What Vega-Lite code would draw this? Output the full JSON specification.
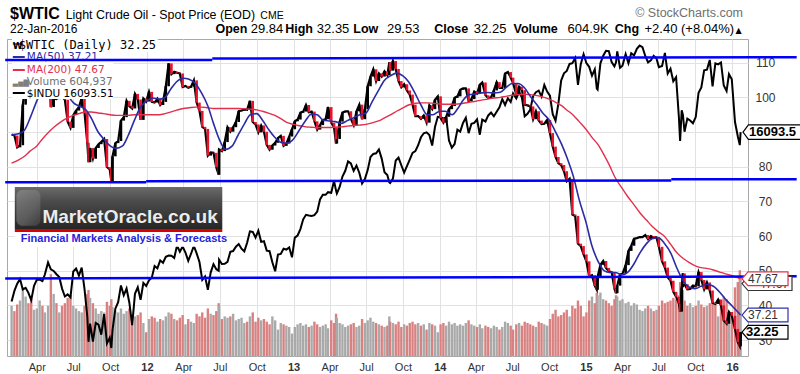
{
"$schema":"https://vega.github.io/schema/vega-lite/v6.json",
"width":741,"height":317,
"autosize":{"type":"none"},
"padding":{"left":7,"top":39,"right":52,"bottom":18},
"background":"white",
"config":{"font":"Liberation Sans","view":{"stroke":"#a8a8a8"}},
"datasets":{
"wk":[
{"d":"2011-01-28","c":89.3,"i":11824,"v":380},{"d":"2011-02-04","c":89.0,"i":12092,"v":340},{"d":"2011-02-11","c":85.6,"i":12273,"v":390},{"d":"2011-02-18","c":86.2,"i":12391,"v":420},{"d":"2011-02-25","c":97.9,"i":12130,"v":520},{"d":"2011-03-04","c":104.4,"i":12170,"v":450},{"d":"2011-03-11","c":101.2,"i":12044,"v":400},{"d":"2011-03-18","c":101.1,"i":11858,"v":430},{"d":"2011-03-25","c":105.4,"i":12221,"v":350},{"d":"2011-04-01","c":107.9,"i":12376,"v":360},{"d":"2011-04-08","c":112.8,"i":12380,"v":420},{"d":"2011-04-15","c":109.7,"i":12342,"v":380},{"d":"2011-04-21","c":112.3,"i":12506,"v":330},{"d":"2011-04-29","c":113.9,"i":12811,"v":380},{"d":"2011-05-06","c":97.2,"i":12638,"v":620},{"d":"2011-05-13","c":99.6,"i":12596,"v":470},{"d":"2011-05-20","c":99.5,"i":12512,"v":400},{"d":"2011-05-27","c":100.6,"i":12442,"v":330},{"d":"2011-06-03","c":100.2,"i":12151,"v":380},{"d":"2011-06-10","c":99.3,"i":11952,"v":400},{"d":"2011-06-17","c":93.0,"i":12004,"v":440},{"d":"2011-06-24","c":91.2,"i":11934,"v":460},{"d":"2011-07-01","c":94.9,"i":12582,"v":380},{"d":"2011-07-08","c":96.2,"i":12657,"v":360},{"d":"2011-07-15","c":97.2,"i":12480,"v":340},{"d":"2011-07-22","c":99.9,"i":12681,"v":330},{"d":"2011-07-29","c":95.7,"i":12143,"v":380},{"d":"2011-08-05","c":86.9,"i":11445,"v":470},{"d":"2011-08-08","c":81.3,"i":10810,"v":500},{"d":"2011-08-12","c":85.4,"i":11269,"v":440},{"d":"2011-08-19","c":82.3,"i":10818,"v":400},{"d":"2011-08-26","c":85.4,"i":11285,"v":360},{"d":"2011-09-02","c":86.5,"i":11240,"v":320},{"d":"2011-09-09","c":87.2,"i":10992,"v":340},{"d":"2011-09-16","c":88.0,"i":11509,"v":330},{"d":"2011-09-23","c":79.9,"i":10771,"v":410},{"d":"2011-09-30","c":79.2,"i":10913,"v":380},{"d":"2011-10-04","c":75.7,"i":10655,"v":430},{"d":"2011-10-07","c":83.0,"i":11103,"v":370},{"d":"2011-10-14","c":86.8,"i":11644,"v":340},{"d":"2011-10-21","c":87.4,"i":11809,"v":330},{"d":"2011-10-28","c":93.3,"i":12231,"v":360},{"d":"2011-11-04","c":94.3,"i":11983,"v":320},{"d":"2011-11-11","c":99.0,"i":12153,"v":340},{"d":"2011-11-18","c":97.4,"i":11796,"v":360},{"d":"2011-11-25","c":96.8,"i":11231,"v":240},{"d":"2011-12-02","c":101.0,"i":12019,"v":300},{"d":"2011-12-09","c":99.4,"i":12184,"v":310},{"d":"2011-12-16","c":93.5,"i":11866,"v":330},{"d":"2011-12-23","c":99.7,"i":12294,"v":250},{"d":"2011-12-30","c":98.8,"i":12218,"v":180},
{"d":"2012-01-06","c":101.6,"i":12360,"v":280},{"d":"2012-01-13","c":98.7,"i":12422,"v":300},{"d":"2012-01-20","c":98.5,"i":12720,"v":290},{"d":"2012-01-27","c":99.6,"i":12660,"v":260},{"d":"2012-02-03","c":97.8,"i":12862,"v":280},{"d":"2012-02-10","c":98.7,"i":12801,"v":270},{"d":"2012-02-17","c":103.2,"i":12950,"v":300},{"d":"2012-02-24","c":109.8,"i":12983,"v":330},{"d":"2012-03-02","c":106.7,"i":12978,"v":320},{"d":"2012-03-09","c":107.4,"i":12922,"v":280},{"d":"2012-03-16","c":107.1,"i":13233,"v":270},{"d":"2012-03-23","c":106.9,"i":13081,"v":290},{"d":"2012-03-30","c":103.0,"i":13212,"v":310},{"d":"2012-04-06","c":103.3,"i":13060,"v":240},{"d":"2012-04-13","c":102.8,"i":12850,"v":280},{"d":"2012-04-20","c":103.1,"i":13029,"v":260},{"d":"2012-04-27","c":104.9,"i":13228,"v":250},{"d":"2012-05-04","c":98.5,"i":13038,"v":320},{"d":"2012-05-11","c":96.1,"i":12821,"v":300},{"d":"2012-05-18","c":91.5,"i":12369,"v":330},{"d":"2012-05-25","c":90.9,"i":12455,"v":290},{"d":"2012-06-01","c":83.2,"i":12119,"v":360},{"d":"2012-06-08","c":84.1,"i":12554,"v":320},{"d":"2012-06-15","c":84.0,"i":12767,"v":310},{"d":"2012-06-22","c":79.8,"i":12640,"v":340},{"d":"2012-06-28","c":77.7,"i":12602,"v":400},{"d":"2012-06-29","c":85.0,"i":12880,"v":380},{"d":"2012-07-06","c":84.5,"i":12772,"v":280},{"d":"2012-07-13","c":87.1,"i":12777,"v":300},{"d":"2012-07-20","c":91.4,"i":12822,"v":290},{"d":"2012-07-27","c":90.1,"i":13075,"v":300},{"d":"2012-08-03","c":91.4,"i":13096,"v":320},{"d":"2012-08-10","c":92.9,"i":13207,"v":270},{"d":"2012-08-17","c":96.0,"i":13275,"v":280},{"d":"2012-08-24","c":96.2,"i":13157,"v":290},{"d":"2012-08-31","c":96.5,"i":13090,"v":250},{"d":"2012-09-07","c":96.4,"i":13306,"v":260},{"d":"2012-09-14","c":99.0,"i":13593,"v":300},{"d":"2012-09-21","c":92.9,"i":13579,"v":330},{"d":"2012-09-28","c":92.2,"i":13437,"v":260},{"d":"2012-10-05","c":89.9,"i":13610,"v":290},{"d":"2012-10-12","c":91.9,"i":13328,"v":270},{"d":"2012-10-19","c":90.1,"i":13343,"v":280},{"d":"2012-10-26","c":86.3,"i":13107,"v":260},{"d":"2012-11-02","c":84.9,"i":13093,"v":240},{"d":"2012-11-09","c":86.1,"i":12815,"v":300},{"d":"2012-11-16","c":86.9,"i":12588,"v":270},{"d":"2012-11-23","c":88.3,"i":13010,"v":200},{"d":"2012-11-30","c":88.9,"i":13025,"v":250},{"d":"2012-12-07","c":86.0,"i":13155,"v":240},{"d":"2012-12-14","c":86.7,"i":13135,"v":230},{"d":"2012-12-21","c":88.7,"i":13190,"v":220},{"d":"2012-12-28","c":90.8,"i":12938,"v":170},
{"d":"2013-01-04","c":93.1,"i":13435,"v":220},{"d":"2013-01-11","c":93.6,"i":13488,"v":240},{"d":"2013-01-18","c":95.6,"i":13650,"v":250},{"d":"2013-01-25","c":95.9,"i":13896,"v":230},{"d":"2013-02-01","c":97.8,"i":14009,"v":240},{"d":"2013-02-08","c":95.7,"i":13993,"v":220},{"d":"2013-02-15","c":95.9,"i":13981,"v":230},{"d":"2013-02-22","c":93.1,"i":14000,"v":260},{"d":"2013-03-01","c":90.7,"i":14090,"v":240},{"d":"2013-03-08","c":92.0,"i":14397,"v":220},{"d":"2013-03-15","c":93.5,"i":14514,"v":230},{"d":"2013-03-22","c":93.7,"i":14512,"v":240},{"d":"2013-03-28","c":97.2,"i":14579,"v":210},{"d":"2013-04-05","c":92.7,"i":14565,"v":270},{"d":"2013-04-12","c":91.3,"i":14865,"v":250},{"d":"2013-04-17","c":86.7,"i":14619,"v":320},{"d":"2013-04-19","c":88.0,"i":14547,"v":290},{"d":"2013-04-26","c":93.0,"i":14712,"v":250},{"d":"2013-05-03","c":95.6,"i":14974,"v":240},{"d":"2013-05-10","c":96.0,"i":15118,"v":220},{"d":"2013-05-17","c":96.0,"i":15354,"v":230},{"d":"2013-05-24","c":93.8,"i":15303,"v":240},{"d":"2013-05-31","c":92.0,"i":15116,"v":250},{"d":"2013-06-07","c":96.0,"i":15248,"v":220},{"d":"2013-06-14","c":97.9,"i":15070,"v":230},{"d":"2013-06-21","c":93.7,"i":14799,"v":280},{"d":"2013-06-28","c":96.6,"i":14910,"v":250},{"d":"2013-07-05","c":103.2,"i":15136,"v":270},{"d":"2013-07-12","c":106.0,"i":15464,"v":290},{"d":"2013-07-19","c":108.1,"i":15543,"v":260},{"d":"2013-07-26","c":104.7,"i":15559,"v":250},{"d":"2013-08-02","c":106.9,"i":15658,"v":240},{"d":"2013-08-09","c":106.0,"i":15425,"v":230},{"d":"2013-08-16","c":107.5,"i":15081,"v":220},{"d":"2013-08-23","c":106.4,"i":15010,"v":230},{"d":"2013-08-28","c":110.1,"i":14824,"v":300},{"d":"2013-08-30","c":107.7,"i":14810,"v":260},{"d":"2013-09-06","c":110.5,"i":14922,"v":250},{"d":"2013-09-13","c":108.2,"i":15376,"v":240},{"d":"2013-09-20","c":104.7,"i":15452,"v":260},{"d":"2013-09-27","c":102.9,"i":15258,"v":220},{"d":"2013-10-04","c":103.8,"i":15073,"v":240},{"d":"2013-10-11","c":102.0,"i":15237,"v":230},{"d":"2013-10-18","c":100.8,"i":15400,"v":250},{"d":"2013-10-25","c":97.9,"i":15570,"v":260},{"d":"2013-11-01","c":94.6,"i":15615,"v":240},{"d":"2013-11-08","c":94.6,"i":15762,"v":250},{"d":"2013-11-15","c":93.8,"i":15962,"v":230},{"d":"2013-11-22","c":94.8,"i":16064,"v":240},{"d":"2013-11-29","c":92.7,"i":16086,"v":200},{"d":"2013-12-06","c":97.7,"i":16020,"v":250},{"d":"2013-12-13","c":96.6,"i":15755,"v":240},{"d":"2013-12-20","c":99.3,"i":16221,"v":230},{"d":"2013-12-27","c":100.3,"i":16479,"v":180},
{"d":"2014-01-03","c":94.0,"i":16470,"v":240},{"d":"2014-01-10","c":92.7,"i":16437,"v":250},{"d":"2014-01-17","c":94.4,"i":16459,"v":230},{"d":"2014-01-24","c":96.6,"i":15880,"v":260},{"d":"2014-01-31","c":97.5,"i":15699,"v":240},{"d":"2014-02-07","c":99.9,"i":15794,"v":250},{"d":"2014-02-14","c":100.3,"i":16154,"v":230},{"d":"2014-02-21","c":102.2,"i":16104,"v":240},{"d":"2014-02-28","c":102.6,"i":16322,"v":230},{"d":"2014-03-07","c":102.6,"i":16453,"v":250},{"d":"2014-03-14","c":98.9,"i":16066,"v":270},{"d":"2014-03-21","c":99.5,"i":16302,"v":240},{"d":"2014-03-28","c":101.7,"i":16323,"v":230},{"d":"2014-04-04","c":101.1,"i":16413,"v":220},{"d":"2014-04-11","c":103.7,"i":16027,"v":240},{"d":"2014-04-17","c":104.3,"i":16409,"v":210},{"d":"2014-04-25","c":100.6,"i":16361,"v":230},{"d":"2014-05-02","c":99.8,"i":16513,"v":220},{"d":"2014-05-09","c":100.0,"i":16584,"v":210},{"d":"2014-05-16","c":102.0,"i":16492,"v":230},{"d":"2014-05-23","c":104.4,"i":16607,"v":220},{"d":"2014-05-30","c":102.7,"i":16717,"v":200},{"d":"2014-06-06","c":102.7,"i":16925,"v":220},{"d":"2014-06-13","c":106.9,"i":16776,"v":260},{"d":"2014-06-20","c":107.3,"i":16947,"v":250},{"d":"2014-06-27","c":105.7,"i":16851,"v":230},{"d":"2014-07-03","c":104.1,"i":17068,"v":200},{"d":"2014-07-11","c":100.8,"i":16944,"v":240},{"d":"2014-07-18","c":103.1,"i":17100,"v":250},{"d":"2014-07-25","c":102.1,"i":16961,"v":230},{"d":"2014-08-01","c":97.9,"i":16493,"v":260},{"d":"2014-08-08","c":97.7,"i":16554,"v":250},{"d":"2014-08-15","c":97.4,"i":16663,"v":240},{"d":"2014-08-22","c":93.7,"i":17001,"v":230},{"d":"2014-08-29","c":96.0,"i":17098,"v":220},{"d":"2014-09-05","c":93.3,"i":17138,"v":260},{"d":"2014-09-12","c":92.3,"i":16988,"v":250},{"d":"2014-09-19","c":92.4,"i":17280,"v":240},{"d":"2014-09-26","c":93.5,"i":17113,"v":230},{"d":"2014-10-03","c":89.7,"i":17009,"v":280},{"d":"2014-10-10","c":85.8,"i":16544,"v":320},{"d":"2014-10-17","c":82.8,"i":16380,"v":350},{"d":"2014-10-24","c":81.0,"i":16805,"v":300},{"d":"2014-10-31","c":80.5,"i":17391,"v":310},{"d":"2014-11-07","c":78.7,"i":17573,"v":330},{"d":"2014-11-14","c":75.8,"i":17634,"v":350},{"d":"2014-11-21","c":76.5,"i":17810,"v":300},{"d":"2014-11-28","c":66.2,"i":17828,"v":380},{"d":"2014-12-05","c":65.8,"i":17959,"v":360},{"d":"2014-12-12","c":57.8,"i":17281,"v":420},{"d":"2014-12-19","c":57.1,"i":17804,"v":380},{"d":"2014-12-26","c":54.7,"i":18053,"v":300},
{"d":"2015-01-02","c":52.7,"i":17833,"v":330},{"d":"2015-01-09","c":48.4,"i":17737,"v":420},{"d":"2015-01-16","c":48.7,"i":17512,"v":450},{"d":"2015-01-23","c":45.6,"i":17672,"v":400},{"d":"2015-01-28","c":44.5,"i":17191,"v":480},{"d":"2015-01-30","c":48.2,"i":17165,"v":460},{"d":"2015-02-06","c":51.7,"i":17825,"v":480},{"d":"2015-02-13","c":52.8,"i":18019,"v":430},{"d":"2015-02-20","c":50.8,"i":18140,"v":420},{"d":"2015-02-27","c":49.8,"i":18133,"v":400},{"d":"2015-03-06","c":49.6,"i":17856,"v":380},{"d":"2015-03-13","c":44.8,"i":17749,"v":430},{"d":"2015-03-17","c":43.5,"i":17850,"v":460},{"d":"2015-03-20","c":45.7,"i":18128,"v":450},{"d":"2015-03-27","c":48.9,"i":17713,"v":420},{"d":"2015-04-02","c":49.1,"i":17763,"v":430},{"d":"2015-04-10","c":51.6,"i":18057,"v":400},{"d":"2015-04-17","c":55.7,"i":17826,"v":410},{"d":"2015-04-24","c":57.2,"i":18080,"v":380},{"d":"2015-05-01","c":59.2,"i":18024,"v":400},{"d":"2015-05-08","c":59.4,"i":18191,"v":390},{"d":"2015-05-15","c":59.7,"i":18273,"v":350},{"d":"2015-05-22","c":59.7,"i":18232,"v":340},{"d":"2015-05-29","c":60.3,"i":18011,"v":360},{"d":"2015-06-05","c":59.1,"i":17849,"v":380},{"d":"2015-06-12","c":60.0,"i":17899,"v":360},{"d":"2015-06-19","c":59.6,"i":18016,"v":340},{"d":"2015-06-26","c":59.6,"i":17947,"v":350},{"d":"2015-07-02","c":56.9,"i":17730,"v":380},{"d":"2015-07-10","c":52.7,"i":17760,"v":420},{"d":"2015-07-17","c":50.9,"i":18086,"v":400},{"d":"2015-07-24","c":48.1,"i":17568,"v":410},{"d":"2015-07-31","c":47.1,"i":17690,"v":420},{"d":"2015-08-07","c":43.9,"i":17373,"v":440},{"d":"2015-08-14","c":42.5,"i":17477,"v":430},{"d":"2015-08-21","c":40.5,"i":16460,"v":460},{"d":"2015-08-24","c":38.2,"i":15871,"v":560},{"d":"2015-08-28","c":45.2,"i":16643,"v":520},{"d":"2015-08-31","c":49.2,"i":16528,"v":500},{"d":"2015-09-04","c":46.1,"i":16102,"v":420},{"d":"2015-09-11","c":44.6,"i":16433,"v":380},{"d":"2015-09-18","c":44.7,"i":16385,"v":400},{"d":"2015-09-25","c":45.7,"i":16315,"v":370},{"d":"2015-10-02","c":45.5,"i":16472,"v":380},{"d":"2015-10-09","c":49.6,"i":17084,"v":420},{"d":"2015-10-16","c":47.3,"i":17216,"v":390},{"d":"2015-10-23","c":44.6,"i":17647,"v":370},{"d":"2015-10-30","c":46.6,"i":17664,"v":380},{"d":"2015-11-06","c":44.3,"i":17910,"v":400},{"d":"2015-11-13","c":40.7,"i":17245,"v":420},{"d":"2015-11-20","c":40.4,"i":17824,"v":400},{"d":"2015-11-27","c":41.7,"i":17798,"v":300},{"d":"2015-12-04","c":40.0,"i":17848,"v":420},{"d":"2015-12-11","c":35.6,"i":17265,"v":450},{"d":"2015-12-18","c":34.7,"i":17128,"v":430},{"d":"2015-12-24","c":38.1,"i":17552,"v":300},{"d":"2015-12-31","c":37.0,"i":17425,"v":320},
{"d":"2016-01-08","c":33.2,"i":16346,"v":520},{"d":"2016-01-15","c":29.4,"i":15988,"v":560},{"d":"2016-01-20","c":28.2,"i":15766,"v":650},{"d":"2016-01-22","c":32.25,"i":16093.5,"v":605}
],
"ma":[
{"d":"2011-01-28","m50":89.2,"m200":81},{"d":"2011-02-15","m50":89.5,"m200":82},{"d":"2011-03-01","m50":90.5,"m200":83},{"d":"2011-03-15","m50":94,"m200":84.5},{"d":"2011-04-01","m50":99,"m200":86},{"d":"2011-04-15","m50":102.5,"m200":88},{"d":"2011-05-01","m50":106.5,"m200":90},{"d":"2011-05-15","m50":106.5,"m200":91.5},{"d":"2011-06-01","m50":104,"m200":93},{"d":"2011-06-15","m50":101,"m200":94},{"d":"2011-07-01","m50":98.5,"m200":94.8},{"d":"2011-07-15","m50":97.5,"m200":95.3},{"d":"2011-08-01","m50":96.5,"m200":95.8},{"d":"2011-08-15","m50":94,"m200":95.8},{"d":"2011-09-01","m50":90,"m200":95.5},{"d":"2011-09-15","m50":88,"m200":95.3},{"d":"2011-10-01","m50":86,"m200":95},{"d":"2011-10-15","m50":85.3,"m200":94.8},{"d":"2011-11-01","m50":86,"m200":94.8},{"d":"2011-11-15","m50":89,"m200":94.8},{"d":"2011-12-01","m50":93.5,"m200":95},{"d":"2011-12-15","m50":97,"m200":95},
{"d":"2012-01-01","m50":99,"m200":95},{"d":"2012-01-15","m50":99.8,"m200":95},{"d":"2012-02-01","m50":99.5,"m200":95},{"d":"2012-02-15","m50":100,"m200":95.3},{"d":"2012-03-01","m50":102.5,"m200":95.8},{"d":"2012-03-15","m50":104.5,"m200":96.3},{"d":"2012-04-01","m50":105.5,"m200":96.8},{"d":"2012-04-15","m50":105.2,"m200":97},{"d":"2012-05-01","m50":104,"m200":97.2},{"d":"2012-05-15","m50":101.5,"m200":97.2},{"d":"2012-06-01","m50":97.5,"m200":97},{"d":"2012-06-15","m50":92.5,"m200":96.8},{"d":"2012-07-01","m50":87.5,"m200":96.8},{"d":"2012-07-15","m50":85,"m200":96.8},{"d":"2012-08-01","m50":86,"m200":96.8},{"d":"2012-08-15","m50":89,"m200":96.8},{"d":"2012-09-01","m50":92.5,"m200":96.7},{"d":"2012-09-15","m50":95,"m200":96.6},{"d":"2012-10-01","m50":95.3,"m200":96.4},{"d":"2012-10-15","m50":93.5,"m200":96},{"d":"2012-11-01","m50":90.5,"m200":95.4},{"d":"2012-11-15","m50":88.5,"m200":94.8},{"d":"2012-12-01","m50":87,"m200":93.8},{"d":"2012-12-15","m50":86.8,"m200":92.8},
{"d":"2013-01-01","m50":88,"m200":92.2},{"d":"2013-01-15","m50":90.5,"m200":91.8},{"d":"2013-02-01","m50":93.5,"m200":91.5},{"d":"2013-02-15","m50":95.2,"m200":91.4},{"d":"2013-03-01","m50":95,"m200":91.3},{"d":"2013-03-15","m50":93.5,"m200":91.3},{"d":"2013-04-01","m50":93.2,"m200":91.3},{"d":"2013-04-15","m50":93,"m200":91.4},{"d":"2013-05-01","m50":92.5,"m200":91.5},{"d":"2013-05-15","m50":93.3,"m200":91.7},{"d":"2013-06-01","m50":94.2,"m200":91.9},{"d":"2013-06-15","m50":95,"m200":92},{"d":"2013-07-01","m50":95.5,"m200":92.2},{"d":"2013-07-15","m50":98.5,"m200":92.6},{"d":"2013-08-01","m50":102,"m200":93.2},{"d":"2013-08-15","m50":104.8,"m200":94},{"d":"2013-09-01","m50":106.3,"m200":95},{"d":"2013-09-15","m50":107,"m200":96},{"d":"2013-10-01","m50":106.2,"m200":97},{"d":"2013-10-15","m50":104.5,"m200":97.8},{"d":"2013-11-01","m50":101,"m200":98.3},{"d":"2013-11-15","m50":97.8,"m200":98.4},{"d":"2013-12-01","m50":95,"m200":98.4},{"d":"2013-12-15","m50":95,"m200":98.3},
{"d":"2014-01-01","m50":96,"m200":98.1},{"d":"2014-01-15","m50":96,"m200":98},{"d":"2014-02-01","m50":95,"m200":98},{"d":"2014-02-15","m50":96.8,"m200":98.1},{"d":"2014-03-01","m50":99.3,"m200":98.3},{"d":"2014-03-15","m50":100.8,"m200":98.6},{"d":"2014-04-01","m50":101,"m200":98.9},{"d":"2014-04-15","m50":101.3,"m200":99.2},{"d":"2014-05-01","m50":101.4,"m200":99.5},{"d":"2014-05-15","m50":101.3,"m200":99.8},{"d":"2014-06-01","m50":101.5,"m200":100},{"d":"2014-06-15","m50":102.8,"m200":100.3},{"d":"2014-07-01","m50":104,"m200":100.6},{"d":"2014-07-15","m50":104,"m200":100.8},{"d":"2014-08-01","m50":102.7,"m200":100.9},{"d":"2014-08-15","m50":100.3,"m200":100.8},{"d":"2014-09-01","m50":97.8,"m200":100.5},{"d":"2014-09-15","m50":95.5,"m200":100.1},{"d":"2014-10-01","m50":93.5,"m200":99.5},{"d":"2014-10-15","m50":90.5,"m200":98.7},{"d":"2014-11-01","m50":86.5,"m200":97.6},{"d":"2014-11-15","m50":82.5,"m200":96.3},{"d":"2014-12-01","m50":77,"m200":94.8},{"d":"2014-12-15","m50":70.5,"m200":93},
{"d":"2015-01-01","m50":64,"m200":90.8},{"d":"2015-01-15","m50":57.5,"m200":88.6},{"d":"2015-02-01","m50":52.5,"m200":86.2},{"d":"2015-02-15","m50":50,"m200":83.4},{"d":"2015-03-01","m50":49.5,"m200":80.3},{"d":"2015-03-15","m50":49.5,"m200":76.8},{"d":"2015-04-01","m50":48.8,"m200":73.8},{"d":"2015-04-15","m50":49.5,"m200":71.4},{"d":"2015-05-01","m50":52,"m200":69},{"d":"2015-05-15","m50":55,"m200":66.8},{"d":"2015-06-01","m50":57.8,"m200":64.6},{"d":"2015-06-15","m50":59.2,"m200":62.8},{"d":"2015-07-01","m50":59.5,"m200":61.2},{"d":"2015-07-15","m50":58,"m200":60},{"d":"2015-08-01","m50":55,"m200":57.5},{"d":"2015-08-15","m50":51,"m200":55.3},{"d":"2015-09-01","m50":47,"m200":53.5},{"d":"2015-09-15","m50":45.3,"m200":52.4},{"d":"2015-10-01","m50":44.8,"m200":51.4},{"d":"2015-10-15","m50":45.5,"m200":50.9},{"d":"2015-11-01","m50":46,"m200":50.6},{"d":"2015-11-15","m50":45.5,"m200":50.2},{"d":"2015-12-01","m50":43.8,"m200":49.6},{"d":"2015-12-15","m50":41.8,"m200":49.1},{"d":"2016-01-01","m50":39.8,"m200":48.6},{"d":"2016-01-22","m50":37.21,"m200":47.67}
]
},
"encoding":{"x":{"field":"d","type":"temporal","scale":{"type":"utc","domain":[{"year":2011,"month":1,"date":29,"utc":true},{"year":2016,"month":1,"date":28,"utc":true}]},"axis":{"title":null,"grid":true,"gridColor":"#e2e2e2","domain":false,"ticks":false,"labelPadding":5,"labelFontSize":11,"labelColor":"#333333","tickCount":{"interval":"month","step":3},"labelExpr":"utcmonth(datum.value)==0 ? utcFormat(datum.value,'%y') : utcFormat(datum.value,'%b')","labelFontWeight":{"condition":{"test":"utcmonth(datum.value)==0","value":"bold"},"value":"normal"},"labelOverlap":false,"labelFlush":false}}},
"layer":[
{"data":{"name":"wk"},"transform":[{"window":[{"op":"lag","field":"c","as":"pc"}],"sort":[{"field":"d","order":"ascending"}]}],"mark":{"type":"bar","width":2.4},"encoding":{"y":{"field":"v","type":"quantitative","scale":{"domain":[0,2400],"nice":false},"axis":null},"color":{"condition":{"test":"datum.pc != null && datum.c < datum.pc","value":"#d98181"},"value":"#a9a9a9"}}},
{"data":{"name":"wk"},"mark":{"type":"line","color":"#000000","strokeWidth":2},"encoding":{"y":{"field":"i","type":"quantitative","scale":{"domain":[10453,18438],"nice":false,"zero":false},"axis":null}}},
{"data":{"name":"wk"},"mark":{"type":"line","color":"#000000","strokeWidth":2.2},"encoding":{"y":{"field":"c","type":"quantitative","scale":{"domain":[25.39,116.84],"nice":false,"zero":false},"axis":{"title":null,"orient":"right","values":[30,40,50,60,70,80,90,100,110],"grid":true,"gridColor":"#e2e2e2","domain":false,"ticks":false,"labelPadding":17,"labelAlign":"center","labelFontSize":12,"labelColor":"#333333"}}}},
{"data":{"name":"wk"},"transform":[{"window":[{"op":"lag","field":"c","as":"pc"}],"sort":[{"field":"d","order":"ascending"}]}],"mark":{"type":"rule","strokeWidth":2.6},"encoding":{"y":{"field":"pc","type":"quantitative","scale":{"domain":[25.39,116.84],"nice":false,"zero":false},"axis":null},"y2":{"field":"c"},"color":{"condition":{"test":"datum.pc != null && datum.c < datum.pc","value":"#e8142e"},"value":"#000000"}}},
{"data":{"name":"ma"},"mark":{"type":"line","color":"#e2304c","strokeWidth":1.4,"interpolate":"monotone"},"encoding":{"y":{"field":"m200","type":"quantitative","scale":{"domain":[25.39,116.84],"nice":false,"zero":false},"axis":null}}},
{"data":{"name":"ma"},"mark":{"type":"line","color":"#2b2ba6","strokeWidth":1.6,"interpolate":"monotone"},"encoding":{"y":{"field":"m50","type":"quantitative","scale":{"domain":[25.39,116.84],"nice":false,"zero":false},"axis":null}}},
{"data":{"values":[{"d":"2011-01-29","d2":"2011-10-09","p":116.84,"p2":99.53},{"d":"2011-10-09","d2":"2012-01-28","p":116.84,"p2":113.09}]},"mark":{"type":"rect","color":"#ffffff"},"encoding":{"x2":{"field":"d2"},"y":{"field":"p","type":"quantitative","scale":{"domain":[25.39,116.84],"nice":false,"zero":false},"axis":null},"y2":{"field":"p2"}}},
{"data":{"values":[{"d":"2011-02-15","p":113.87,"t":"$WTIC (Daily) 32.25"}]},"mark":{"type":"text","font":"DejaVu Sans Mono","fontSize":12,"align":"left","baseline":"alphabetic","color":"#000000"},"encoding":{"y":{"field":"p","type":"quantitative","scale":{"domain":[25.39,116.84],"nice":false,"zero":false},"axis":null},"text":{"field":"t"}}},
{"data":{"values":[{"d":"2011-01-31","p":113.87,"t":"₩"}]},"mark":{"type":"text","font":"DejaVu Sans","fontSize":9,"fontWeight":"bold","align":"left","baseline":"alphabetic","color":"#000000"},"encoding":{"y":{"field":"p","type":"quantitative","scale":{"domain":[25.39,116.84],"nice":false,"zero":false},"axis":null},"text":{"field":"t"}}},
{"data":{"values":[{"d":"2011-03-07","p":110.78,"t":"MA(50) 37.21","s":"ma50"},{"d":"2011-03-07","p":106.94,"t":"MA(200) 47.67","s":"ma200"},{"d":"2011-03-07","p":103.57,"t":"Volume 604,937","s":"vol"},{"d":"2011-03-07","p":100.19,"t":"$INDU 16093.51","s":"indu"}]},"mark":{"type":"text","font":"DejaVu Sans","fontSize":10.5,"align":"left","baseline":"alphabetic"},"encoding":{"y":{"field":"p","type":"quantitative","scale":{"domain":[25.39,116.84],"nice":false,"zero":false},"axis":null},"text":{"field":"t"},"color":{"field":"s","type":"nominal","scale":{"domain":["ma50","ma200","vol","indu"],"range":["#2b2ba6","#e2304c","#707070","#000000"]},"legend":null}}},
{"data":{"values":[{"d":"2011-01-31","d2":"2011-03-02","p":111.64,"s":"ma50"},{"d":"2011-01-31","d2":"2011-03-02","p":107.89,"s":"ma200"},{"d":"2011-01-31","d2":"2011-03-02","p":101.26,"s":"indu"}]},"mark":{"type":"rule","strokeWidth":2},"encoding":{"x2":{"field":"d2"},"y":{"field":"p","type":"quantitative","scale":{"domain":[25.39,116.84],"nice":false,"zero":false},"axis":null},"color":{"field":"s","type":"nominal","scale":{"domain":["ma50","ma200","vol","indu"],"range":["#2b2ba6","#e2304c","#707070","#000000"]},"legend":null}}},
{"data":{"values":[{"d":"2011-01-31","p":103.57,"t":"▃▅▇"}]},"mark":{"type":"text","font":"DejaVu Sans","fontSize":7,"align":"left","baseline":"alphabetic","color":"#808080"},"encoding":{"y":{"field":"p","type":"quantitative","scale":{"domain":[25.39,116.84],"nice":false,"zero":false},"axis":null},"text":{"field":"t"}}},
{"data":{"values":[{"d":"2011-01-12","d2":"2012-06-12","p":110.8,"p2":110.8},{"d":"2012-06-12","d2":"2016-06-10","p":111.2,"p2":111.6},{"d":"2011-01-12","d2":"2011-12-30","p":75.55,"p2":75.55},{"d":"2011-12-30","d2":"2015-08-02","p":75.8,"p2":76.05},{"d":"2015-08-02","d2":"2016-06-10","p":76.4,"p2":76.4},{"d":"2011-01-12","d2":"2016-06-10","p":47.74,"p2":48.37}]},"mark":{"type":"rule","color":"#0000ff","strokeWidth":2.5},"encoding":{"x2":{"field":"d2"},"y":{"field":"p","type":"quantitative","scale":{"domain":[25.39,116.84],"nice":false,"zero":false},"axis":null},"y2":{"field":"p2"}}},
{"data":{"values":[{"d":"2011-02-05","d2":"2012-07-07","p":74.14,"p2":62.02}]},"mark":{"type":"rect","fill":{"gradient":"linear","x1":0,"y1":0,"x2":0,"y2":1,"stops":[{"offset":0,"color":"#6b6b6b"},{"offset":0.35,"color":"#4a4a4a"},{"offset":1,"color":"#262626"}]}},"encoding":{"x2":{"field":"d2"},"y":{"field":"p","type":"quantitative","scale":{"domain":[25.39,116.84],"nice":false,"zero":false},"axis":null},"y2":{"field":"p2"}}},
{"data":{"values":[{"d":"2011-02-09","d2":"2011-04-10","p":73.3,"p2":63.0}]},"mark":{"type":"rect","fill":{"gradient":"linear","x1":0,"y1":0,"x2":1,"y2":1,"stops":[{"offset":0,"color":"#9a9a9a"},{"offset":0.6,"color":"#7a7a7a"},{"offset":1,"color":"#4a4a4a"}]},"opacity":0.55,"cornerRadius":6},"encoding":{"x2":{"field":"d2"},"y":{"field":"p","type":"quantitative","scale":{"domain":[25.39,116.84],"nice":false,"zero":false},"axis":null},"y2":{"field":"p2"}}},
{"data":{"values":[{"d":"2011-02-05","d2":"2012-07-07","p":62.02,"p2":61.15}]},"mark":{"type":"rect","color":"#dd0000"},"encoding":{"x2":{"field":"d2"},"y":{"field":"p","type":"quantitative","scale":{"domain":[25.39,116.84],"nice":false,"zero":false},"axis":null},"y2":{"field":"p2"}}},
{"data":{"values":[{"d":"2011-02-05","d2":"2012-07-07","p":61.15,"p2":56.9}]},"mark":{"type":"rect","color":"#ffffff"},"encoding":{"x2":{"field":"d2"},"y":{"field":"p","type":"quantitative","scale":{"domain":[25.39,116.84],"nice":false,"zero":false},"axis":null},"y2":{"field":"p2"}}},
{"data":{"values":[{"d":"2011-04-15","p":63.75,"t":"MarketOracle.co.uk"}]},"mark":{"type":"text","fontSize":19,"fontWeight":"bold","align":"left","baseline":"alphabetic","color":"#ececec"},"encoding":{"y":{"field":"p","type":"quantitative","scale":{"domain":[25.39,116.84],"nice":false,"zero":false},"axis":null},"text":{"field":"t"}}},
{"data":{"values":[{"d":"2011-02-20","p":58.2,"t":"Financial Markets Analysis & Forecasts"}]},"mark":{"type":"text","fontSize":11,"fontWeight":"bold","align":"left","baseline":"alphabetic","color":"#2424dc"},"encoding":{"y":{"field":"p","type":"quantitative","scale":{"domain":[25.39,116.84],"nice":false,"zero":false},"axis":null},"text":{"field":"t"}}},
{"data":{"values":[{"d":"2016-01-28","i":16093.5}]},"mark":{"type":"point","shape":"M-1,0L-0.82,-0.24L1,-0.24L1,0.24L-0.82,0.24Z","size":3600,"filled":true,"fill":"#ffffff","stroke":"#000000","strokeWidth":1.2,"opacity":1,"xOffset":30},"encoding":{"y":{"field":"i","type":"quantitative","scale":{"domain":[10453,18438],"nice":false,"zero":false},"axis":null}}},
{"data":{"values":[{"d":"2016-01-28","i":16093.5,"t":"16093.5"}]},"mark":{"type":"text","fontSize":13,"fontWeight":"bold","align":"left","baseline":"middle","dx":6,"color":"#000000"},"encoding":{"y":{"field":"i","type":"quantitative","scale":{"domain":[10453,18438],"nice":false,"zero":false},"axis":null},"text":{"field":"t"}}},
{"data":{"values":[{"d":"2016-01-28","p":46.3}]},"mark":{"type":"point","shape":"M-1,0L-0.76,-0.28L1,-0.28L1,0.28L-0.76,0.28Z","size":2500,"filled":true,"fill":"#ffffff","stroke":"#333333","strokeWidth":1.2,"opacity":1,"xOffset":24},"encoding":{"y":{"field":"p","type":"quantitative","scale":{"domain":[25.39,116.84],"nice":false,"zero":false},"axis":null}}},
{"data":{"values":[{"d":"2016-01-28","p":46.3,"t":"47.67"}]},"mark":{"type":"text","fontSize":12,"align":"left","baseline":"middle","dx":16,"color":"#333333"},"encoding":{"y":{"field":"p","type":"quantitative","scale":{"domain":[25.39,116.84],"nice":false,"zero":false},"axis":null},"text":{"field":"t"}}},
{"data":{"values":[{"d":"2016-01-28","p":47.67,"s":"ma200"},{"d":"2016-01-28","p":37.21,"s":"ma50"},{"d":"2016-01-28","p":32.25,"s":"close"}]},"mark":{"type":"point","shape":"M-1,0L-0.74,-0.3L1,-0.3L1,0.3L-0.74,0.3Z","size":2116,"filled":true,"fill":"#ffffff","strokeWidth":1.2,"opacity":1,"xOffset":22},"encoding":{"y":{"field":"p","type":"quantitative","scale":{"domain":[25.39,116.84],"nice":false,"zero":false},"axis":null},"stroke":{"field":"s","type":"nominal","scale":{"domain":["ma200","ma50","close"],"range":["#e2304c","#3030b0","#000000"]},"legend":null}}},
{"data":{"values":[{"d":"2016-01-28","p":47.67,"t":"47.67"},{"d":"2016-01-28","p":37.21,"t":"37.21"}]},"mark":{"type":"text","fontSize":12,"align":"left","baseline":"middle","dx":5,"color":"#333333"},"encoding":{"y":{"field":"p","type":"quantitative","scale":{"domain":[25.39,116.84],"nice":false,"zero":false},"axis":null},"text":{"field":"t"}}},
{"data":{"values":[{"d":"2016-01-28","p":32.25,"t":"32.25"}]},"mark":{"type":"text","fontSize":13,"fontWeight":"bold","align":"left","baseline":"middle","dx":3,"color":"#000000"},"encoding":{"y":{"field":"p","type":"quantitative","scale":{"domain":[25.39,116.84],"nice":false,"zero":false},"axis":null},"text":{"field":"t"}}},
{"data":{"values":[{"d":"2011-01-24","p":122.61,"t":"$WTIC"}]},"mark":{"type":"text","fontSize":16,"fontWeight":"bold","align":"left","baseline":"alphabetic","color":"#000000"},"encoding":{"y":{"field":"p","type":"quantitative","scale":{"domain":[25.39,116.84],"nice":false,"zero":false},"axis":null},"text":{"field":"t"}}},
{"data":{"values":[{"d":"2011-06-12","p":122.61,"t":"Light Crude Oil - Spot Price (EOD)"}]},"mark":{"type":"text","fontSize":12.4,"align":"left","baseline":"alphabetic","color":"#000000"},"encoding":{"y":{"field":"p","type":"quantitative","scale":{"domain":[25.39,116.84],"nice":false,"zero":false},"axis":null},"text":{"field":"t"}}},
{"data":{"values":[{"d":"2012-10-10","p":122.61,"t":"CME"}]},"mark":{"type":"text","fontSize":10.5,"align":"left","baseline":"alphabetic","color":"#000000"},"encoding":{"y":{"field":"p","type":"quantitative","scale":{"domain":[25.39,116.84],"nice":false,"zero":false},"axis":null},"text":{"field":"t"}}},
{"data":{"values":[{"d":"2011-01-24","p":118.71,"t":"22-Jan-2016"}]},"mark":{"type":"text","fontSize":12,"align":"left","baseline":"alphabetic","color":"#000000"},"encoding":{"y":{"field":"p","type":"quantitative","scale":{"domain":[25.39,116.84],"nice":false,"zero":false},"axis":null},"text":{"field":"t"}}},
{"data":{"values":[{"d":"2012-06-20","p":118.71,"t":"Open"},{"d":"2012-12-11","p":118.71,"t":"High"},{"d":"2013-05-30","p":118.71,"t":"Low"},{"d":"2013-12-18","p":118.71,"t":"Close"},{"d":"2014-07-04","p":118.71,"t":"Volume"},{"d":"2015-03-14","p":118.71,"t":"Chg"}]},"mark":{"type":"text","fontSize":12.5,"fontWeight":"bold","align":"left","baseline":"alphabetic","color":"#000000"},"encoding":{"y":{"field":"p","type":"quantitative","scale":{"domain":[25.39,116.84],"nice":false,"zero":false},"axis":null},"text":{"field":"t"}}},
{"data":{"values":[{"d":"2012-09-16","p":118.71,"t":"29.84"},{"d":"2013-02-28","p":118.71,"t":"32.35"},{"d":"2013-08-22","p":118.71,"t":"29.53"},{"d":"2014-03-27","p":118.71,"t":"32.25"},{"d":"2014-11-16","p":118.71,"t":"604.9K"},{"d":"2015-05-27","p":118.71,"t":"+2.40 (+8.04%)"}]},"mark":{"type":"text","fontSize":13,"align":"left","baseline":"alphabetic","color":"#000000"},"encoding":{"y":{"field":"p","type":"quantitative","scale":{"domain":[25.39,116.84],"nice":false,"zero":false},"axis":null},"text":{"field":"t"}}},
{"data":{"values":[{"d":"2016-01-09","p":118.71,"t":"▲"}]},"mark":{"type":"text","font":"DejaVu Sans","fontSize":8,"align":"left","baseline":"alphabetic","color":"#000000"},"encoding":{"y":{"field":"p","type":"quantitative","scale":{"domain":[25.39,116.84],"nice":false,"zero":false},"axis":null},"text":{"field":"t"}}},
{"data":{"values":[{"d":"2016-01-28","p":123.19,"t":"© StockCharts.com"}]},"mark":{"type":"text","fontSize":12.5,"align":"right","baseline":"alphabetic","color":"#707070"},"encoding":{"y":{"field":"p","type":"quantitative","scale":{"domain":[25.39,116.84],"nice":false,"zero":false},"axis":null},"text":{"field":"t"}}}
],
"resolve":{"scale":{"y":"independent","color":"independent","stroke":"independent"}}
}
